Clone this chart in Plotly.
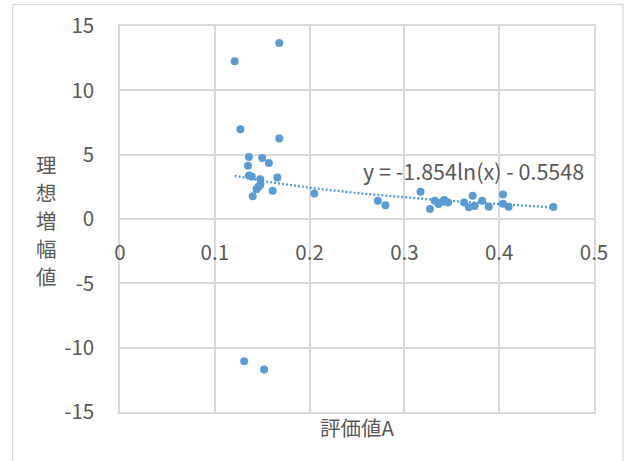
import numpy as np
import plotly.graph_objects as go

# Data
x_vals = [0.168, 0.121, 0.127, 0.168, 0.136, 0.150, 0.157, 0.135, 0.136, 0.139,
          0.166, 0.148, 0.148, 0.146, 0.144, 0.161, 0.140, 0.205, 0.272, 0.280,
          0.317, 0.327, 0.332, 0.336, 0.340, 0.342, 0.346, 0.363, 0.368, 0.372,
          0.374, 0.382, 0.389, 0.404, 0.404, 0.410, 0.457, 0.131, 0.152]
y_vals = [13.67, 12.27, 6.98, 6.26, 4.81, 4.75, 4.36, 4.13, 3.39, 3.31,
          3.23, 3.08, 2.66, 2.50, 2.32, 2.19, 1.76, 1.99, 1.42, 1.06,
          2.12, 0.78, 1.42, 1.16, 1.34, 1.47, 1.29, 1.29, 0.91, 1.81,
          1.01, 1.42, 0.96, 1.91, 1.19, 0.96, 0.93, -11.06, -11.70]

# Logarithmic trendline coefficients (as displayed)
trend_a = -1.854
trend_b = -0.5548
trend_label = "y = -1.854ln(x) - 0.5548"

x_tickvals = [0, 0.1, 0.2, 0.3, 0.4, 0.5]
x_ticktext = ["0", "0.1", "0.2", "0.3", "0.4", "0.5"]
y_tickvals = [-15, -10, -5, 0, 5, 10, 15]
y_ticktext = ["-15", "-10", "-5", "0", "5", "10", "15"]

x_title = "評価値A"
y_title = "理想増幅値"

BLUE = "#5b9bd5"
GRID = "#d9d9d9"
TXT = "#595959"
FONT = "Noto Sans CJK JP"
TICK_SIZE = 20.5

FIG_W, FIG_H = 627, 461
M_L, M_R, M_T, M_B = 120, 33, 26, 49

tx = np.linspace(min(x_vals), max(x_vals), 200)
ty = trend_a * np.log(tx) + trend_b

fig = go.Figure()
fig.add_trace(go.Scatter(x=tx, y=ty, mode="lines",
                         line=dict(color=BLUE, width=2.4, dash="2px,2px"),
                         hoverinfo="skip", showlegend=False))
fig.add_trace(go.Scatter(x=x_vals, y=y_vals, mode="markers",
                         marker=dict(color=BLUE, size=8),
                         showlegend=False))
# invisible trace on the overlay axis so it renders its tick labels
fig.add_trace(go.Scatter(x=[None], y=[None], xaxis="x2", showlegend=False))

plot_w = FIG_W - M_L - M_R
plot_h = FIG_H - M_T - M_B

# stacked vertical y title: one annotation per character, 28 px apart
n = len(y_title)
title_annots = []
for i, ch in enumerate(y_title):
    offset_px = (i - (n - 1) / 2) * 28
    title_annots.append(dict(text=ch, xref="paper", yref="paper",
                             x=-0.155, y=0.497 - offset_px / plot_h,
                             xanchor="center", yanchor="middle",
                             showarrow=False,
                             font=dict(family=FONT, size=20.5, color=TXT)))

# outer chart border (pixel positions converted to paper coords)
bx0 = (12.7 - M_L) / plot_w
bx1 = (623 - M_L) / plot_w
by1 = 1 + (M_T - 4.3) / plot_h
by0 = -(M_B + 10) / plot_h

fig.update_layout(
    width=FIG_W, height=FIG_H,
    margin=dict(l=M_L, r=M_R, t=M_T, b=M_B, autoexpand=False),
    paper_bgcolor="white", plot_bgcolor="white",
    font=dict(family=FONT, color=TXT, size=TICK_SIZE),
    xaxis=dict(range=[0, 0.5], tickvals=x_tickvals, showticklabels=False,
               showgrid=True, gridcolor=GRID, gridwidth=1.5,
               zeroline=False, showline=True, linecolor=GRID, linewidth=1.5,
               mirror=True, automargin=False,
               title=dict(text=x_title, standoff=9,
                          font=dict(family=FONT, size=20.5, color=TXT))),
    xaxis2=dict(range=[0, 0.5], overlaying="x", anchor="free", position=0.5,
                side="bottom", tickvals=x_tickvals, ticktext=x_ticktext,
                showgrid=False, zeroline=False, showline=False, ticks="",
                ticklabelstandoff=19, automargin=False,
                tickfont=dict(family=FONT, size=TICK_SIZE, color=TXT)),
    yaxis=dict(range=[-15, 15], tickvals=y_tickvals, ticktext=y_ticktext,
               showgrid=True, gridcolor=GRID, gridwidth=1.5,
               zeroline=False, showline=True, linecolor=GRID, linewidth=1.5,
               mirror=True, ticks="", automargin=False,
               ticklabelstandoff=20,
               tickfont=dict(family=FONT, size=TICK_SIZE, color=TXT)),
    shapes=[dict(type="rect", xref="paper", yref="paper",
                 x0=bx0, x1=bx1, y0=by0, y1=by1,
                 line=dict(color=GRID, width=1.2), layer="below")],
    annotations=title_annots + [
        dict(text=trend_label, xref="x", yref="y", x=0.373, y=3.8,
             xanchor="center", yanchor="middle", showarrow=False,
             font=dict(family=FONT, size=21.5, color=TXT)),
    ],
)

# remove the browser's default 8px body margin so the figure fills the window
fig.write_html("out.html",
               config={"displayModeBar": False},
               post_script="document.body.style.margin='0';"
                           "document.body.style.overflow='hidden';")
